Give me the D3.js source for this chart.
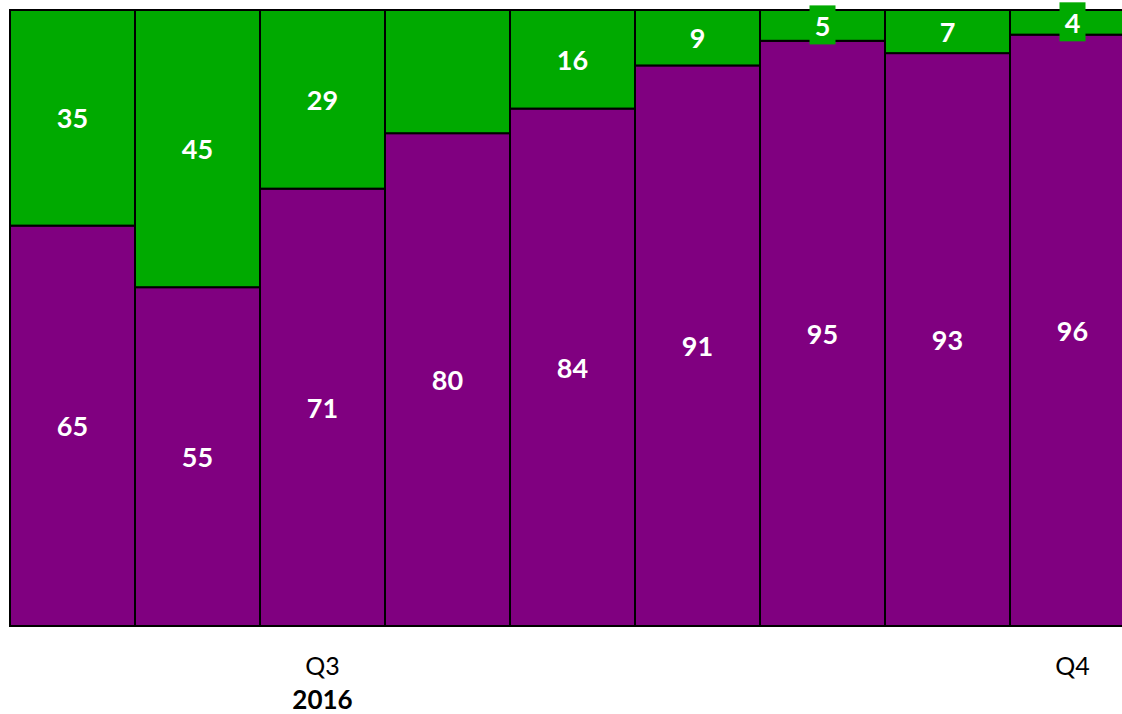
<!DOCTYPE html>
<html>
<head>
<meta charset="utf-8">
<script src="https://cdn.jsdelivr.net/npm/d3@7"></script>
<style>
  body { margin: 0; background: #fff; }
  text { font-family: Lato, "Open Sans", sans-serif; }
</style>
</head>
<body>
<svg id="chart"></svg>
<script>
const W = 1122
const H = 714
const margins = { top: 10, bottom: 88, left: 10 }

// data
const periods = ['p1', 'p2', 'Q3', 'p4', 'p5', 'p6', 'p7', 'p8', 'Q4']
const purple = [65, 55, 71, 80, 84, 91, 95, 93, 96]
const green = [35, 45, 29, 20, 16, 9, 5, 7, 4]
const greenShown = [true, true, true, false, true, true, true, true, true]
const tickLabels = ['', '', 'Q3', '', '', '', '', '', 'Q4']
const yearLabel = '2016'

const colors = { purple: '#800080', green: '#00AA00' }

const svg = d3.select('svg#chart').attr('width', W).attr('height', H)

const step = 125
const x = d3.scaleBand()
  .domain(d3.range(periods.length))
  .range([margins.left, margins.left + step * periods.length])
  .padding(0)

const y = d3.scaleLinear()
  .domain([0, 100])
  .range([H - margins.bottom, margins.top])

const rows = periods.map((p, i) => ({ i, purple: purple[i], green: green[i] }))
const stack = d3.stack().keys(['purple', 'green'])(rows)

const layers = svg.selectAll('g.layer')
  .data(stack)
  .join('g')
  .attr('class', 'layer')
  .attr('fill', d => colors[d.key])

layers.selectAll('rect')
  .data(d => d)
  .join('rect')
  .attr('x', d => x(d.data.i))
  .attr('width', x.bandwidth())
  .attr('y', d => y(d[1]))
  .attr('height', d => y(d[0]) - y(d[1]))
  .attr('stroke', '#000')
  .attr('stroke-width', 2)

// labels
const labelData = []
stack.forEach(layer => {
  layer.forEach(d => {
    const i = d.data.i
    if (layer.key === 'green' && !greenShown[i]) return
    labelData.push({ key: layer.key, i, v: d.data[layer.key], y0: d[0], y1: d[1] })
  })
})

const lbl = svg.append('g')
lbl.selectAll('g')
  .data(labelData)
  .join('g')
  .each(function (d) {
    const g = d3.select(this)
    const cx = x(d.i) + x.bandwidth() / 2
    const cy = (y(d.y0) + y(d.y1)) / 2
    const segH = y(d.y0) - y(d.y1)
    if (segH < 38) {
      g.append('rect')
        .attr('x', cx - 13)
        .attr('y', cy - 20)
        .attr('width', 26)
        .attr('height', 39)
        .attr('fill', colors[d.key])
    }
    g.append('text')
      .attr('x', cx)
      .attr('y', cy)
      .attr('text-anchor', 'middle')
      .attr('dominant-baseline', 'central')
      .attr('fill', '#fff')
      .attr('font-weight', 'bold')
      .attr('font-size', 27)
      .text(d.v)
  })

// x axis labels
svg.append('g')
  .selectAll('text')
  .data(tickLabels)
  .join('text')
  .attr('x', (d, i) => x(i) + x.bandwidth() / 2)
  .attr('y', 665)
  .attr('text-anchor', 'middle')
  .attr('dominant-baseline', 'central')
  .attr('font-size', 25)
  .attr('fill', '#000')
  .text(d => d)

svg.append('text')
  .attr('x', x(2) + x.bandwidth() / 2)
  .attr('y', 699)
  .attr('text-anchor', 'middle')
  .attr('dominant-baseline', 'central')
  .attr('font-size', 26)
  .attr('font-weight', 'bold')
  .attr('fill', '#000')
  .text(yearLabel)
</script>
</body>
</html>
